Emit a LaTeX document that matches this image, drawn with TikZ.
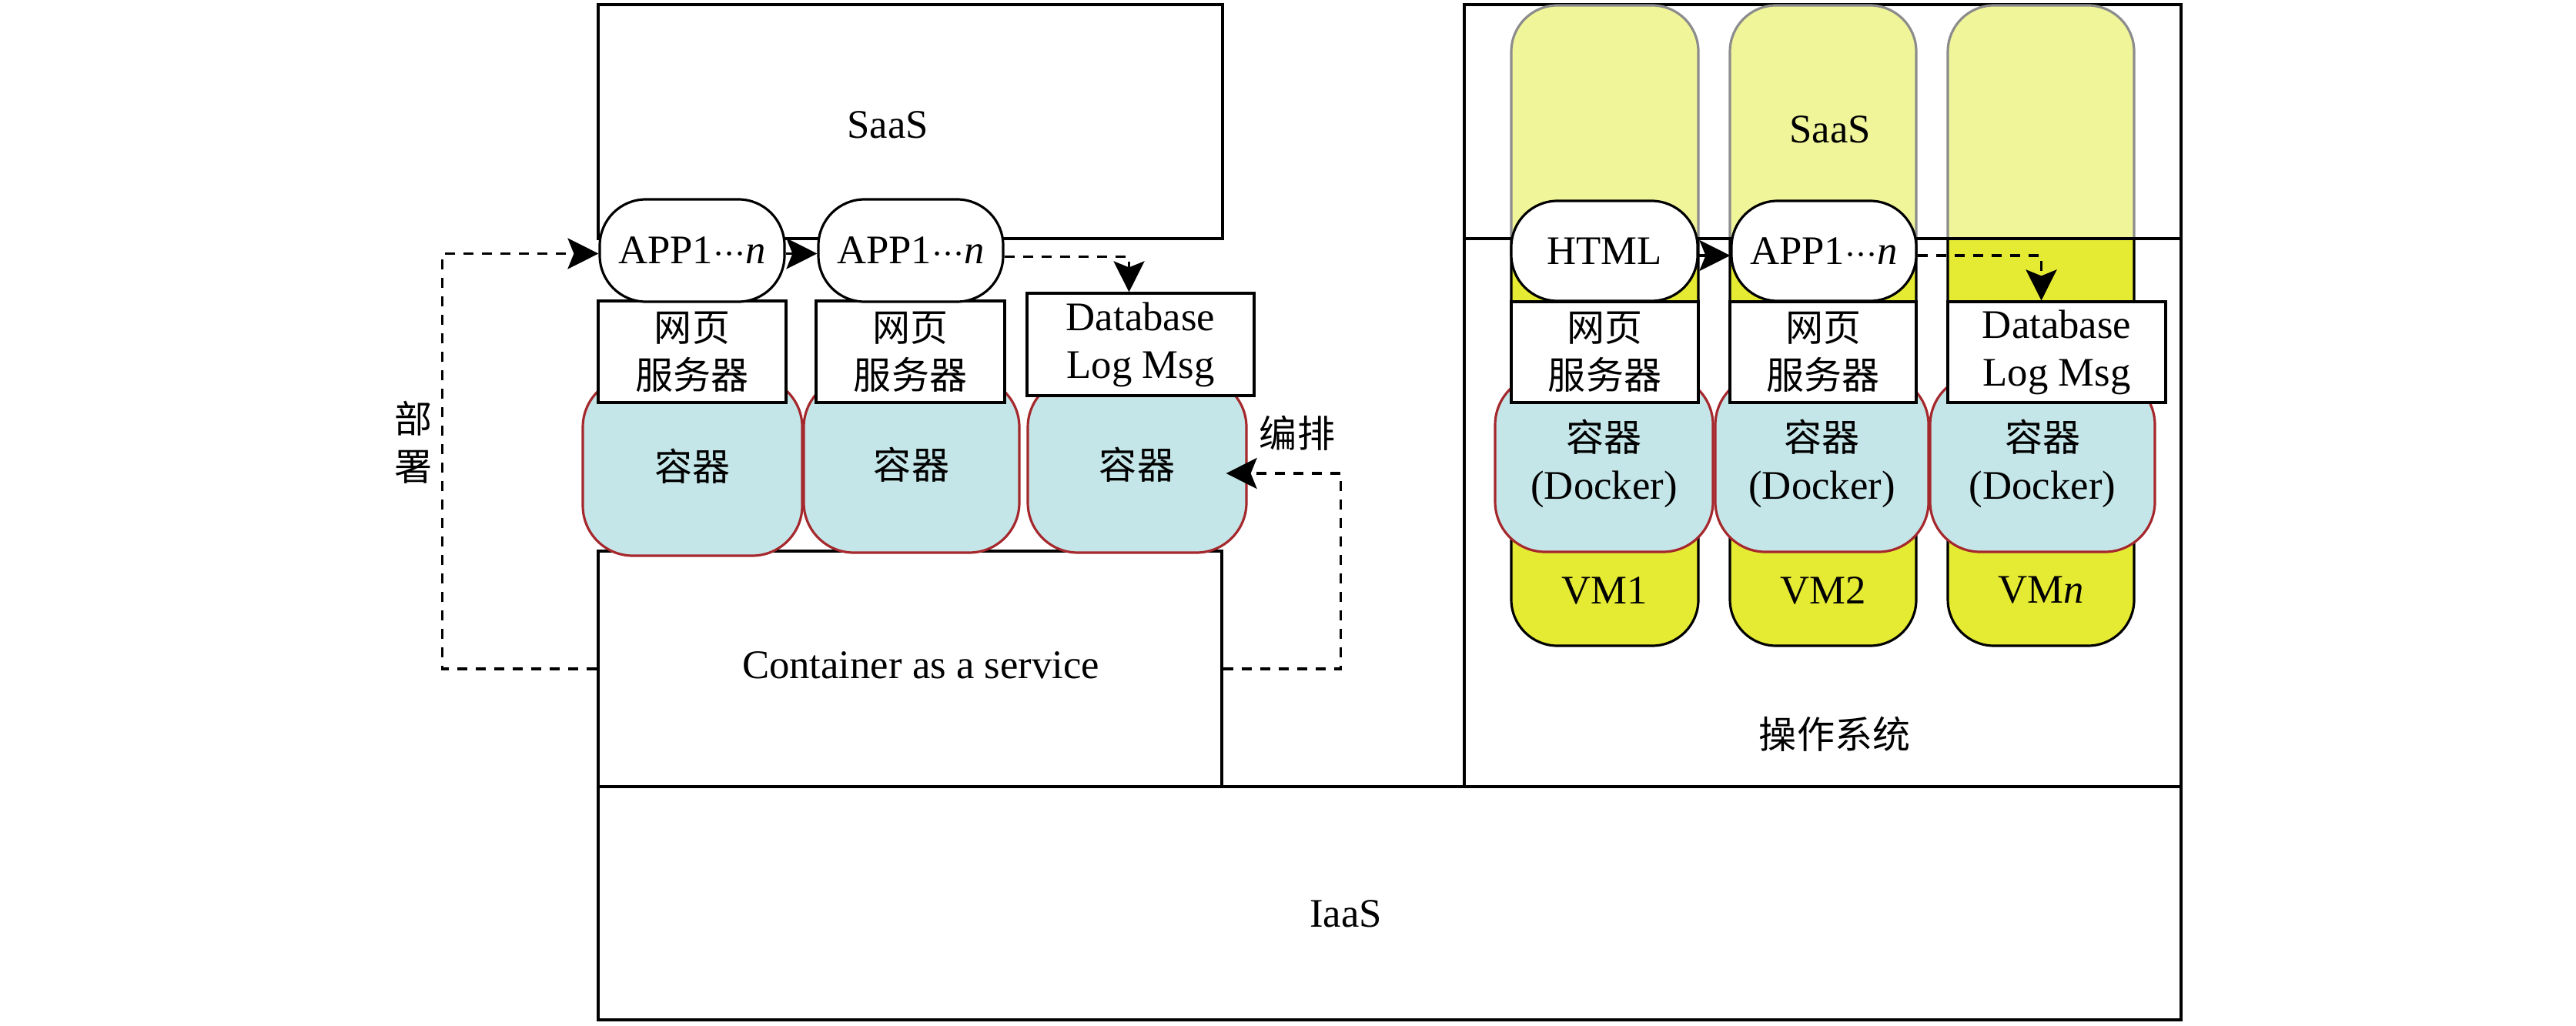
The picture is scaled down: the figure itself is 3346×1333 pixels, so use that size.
\documentclass[tikz,border=0pt]{standalone}
\usepackage{fontspec}
\setmainfont{Liberation Serif}
\newfontfamily\cjk[Scale=0.93]{Noto Sans CJK SC}
\usetikzlibrary{arrows.meta}
\definecolor{ctrfill}{RGB}{197,230,232}
\definecolor{ctrline}{RGB}{165,40,45}
\definecolor{vmfill}{RGB}{229,234,51}
\definecolor{vmpale}{RGB}{241,245,154}
\definecolor{vmgrey}{RGB}{140,140,140}
\newcommand{\appdots}{${\cdot}{\cdot}{\cdot}$}

\begin{document}
\begin{tikzpicture}[
  x=0.1mm, y=-0.1mm,
  txt/.style={font=\fontsize{15}{17.6}\selectfont,align=center,inner sep=0pt},
  layer/.style={draw,line width=0.9pt,inner sep=0pt,font=\fontsize{15}{17.6}\selectfont},
  box/.style={draw,fill=white,line width=0.9pt,inner sep=0pt,align=center,font=\fontsize{15}{17.6}\selectfont},
  pill/.style={box,rounded corners=6mm},
  ctr/.style={draw=ctrline,fill=ctrfill,line width=0.9pt,rounded corners=6.5mm,inner sep=0pt,align=center,font=\fontsize{15}{17.6}\selectfont},
  vmlow/.style={draw,fill=vmfill,line width=0.9pt,rounded corners=6mm},
  vmhigh/.style={draw=vmgrey,fill=vmpale,line width=0.9pt,rounded corners=6mm},
  arr/.style={-{Stealth[length=4mm,width=4mm,inset=0.8mm]},line width=1pt,dash pattern=on 1.3mm off 1.1mm}
]
\useasboundingbox (0,0) rectangle (3346,1333);
\node[layer,minimum width=205.6mm,minimum height=30.3mm] (iaas) at (1805,1173.5) {};
\node[txt] (iaastxt) at (1748,1187) {IaaS};
\node[layer,minimum width=81mm,minimum height=30.6mm] (caas) at (1182,869) {};
\node[txt] (caastxt) at (1196,864) {Container as a service};
\node[layer,minimum width=81.1mm,minimum height=30.4mm] (saasL) at (1182.5,158) {};
\node[txt] (saasLtxt) at (1153,162) {SaaS};
\node[layer,minimum width=93.1mm,minimum height=101.6mm] (os) at (2367.5,514) {};
\node[txt] (ostxt) at (2383,954) {\cjk 操作系统};
\draw[vmhigh] (1963,310) |- (2206,7) -- (2206,310);
\draw[vmhigh] (2247,310) |- (2489,7) -- (2489,310);
\draw[vmhigh] (2530,310) |- (2772,7) -- (2772,310);
\draw[vmlow] (1963,310) |- (2206,839) -- (2206,310);
\draw[vmlow] (2247,310) |- (2489,839) -- (2489,310);
\draw[vmlow] (2530,310) |- (2772,839) -- (2772,310);
\draw[line width=0.9pt] (os.west |- 0,310) -- (os.east |- 0,310);
\node[txt] (saasRtxt) at (2377,168) {SaaS};
\node[txt] (vm1) at (2084.5,767) {VM1};
\node[txt] (vm2) at (2368,767) {VM2};
\node[txt] (vmn) at (2651,767) {VM\textit{n}};
\node[ctr,minimum width=28.3mm,minimum height=23mm] (ctrR1) at (2083.5,602) {{\cjk 容器}\\(Docker)};
\node[ctr,minimum width=27.7mm,minimum height=23mm] (ctrR2) at (2366.5,602) {{\cjk 容器}\\(Docker)};
\node[ctr,minimum width=29.2mm,minimum height=23mm] (ctrR3) at (2653,602) {{\cjk 容器}\\(Docker)};
\node[box,minimum width=24.3mm,minimum height=13.1mm] (webR1) at (2084.5,457.5) {{\cjk 网页}\\{\cjk 服务器}};
\node[box,minimum width=24.2mm,minimum height=13.1mm] (webR2) at (2368,457.5) {{\cjk 网页}\\{\cjk 服务器}};
\node[box,minimum width=28.3mm,minimum height=13.1mm] (dbR) at (2671.5,457.5) {Database\\Log Msg};
\node[pill,minimum width=24.2mm,minimum height=13mm] (html) at (2084,326) {HTML};
\node[pill,minimum width=24mm,minimum height=13mm] (appR) at (2369,326) {APP1\appdots\textit{n}};
\node[ctr,minimum width=28.5mm,minimum height=23.2mm] (ctrL1) at (899.5,606) {\cjk 容器};
\node[ctr,minimum width=28mm,minimum height=22.8mm] (ctrL2) at (1184,604) {\cjk 容器};
\node[ctr,minimum width=28.4mm,minimum height=22.8mm] (ctrL3) at (1477,604) {\cjk 容器};
\node[box,minimum width=24.4mm,minimum height=13.2mm] (webL1) at (899,457) {{\cjk 网页}\\{\cjk 服务器}};
\node[box,minimum width=24.5mm,minimum height=13.2mm] (webL2) at (1182.5,457) {{\cjk 网页}\\{\cjk 服务器}};
\node[box,minimum width=29.5mm,minimum height=13.3mm] (dbL) at (1481.5,447.5) {Database\\Log Msg};
\node[pill,minimum width=24mm,minimum height=13.3mm] (appL1) at (899,325.5) {APP1\appdots\textit{n}};
\node[pill,minimum width=24mm,minimum height=13.3mm] (appL2) at (1183,325.5) {APP1\appdots\textit{n}};
\node[txt] (deploy) at (537,575) {{\cjk 部}\\{\cjk 署}};
\node[txt] (orch) at (1685,563) {\cjk 编排};
\draw[arr] (caas.west) -- ++(-201,0) |- ([yshift=-0.4mm]appL1.west);
\draw[arr,shorten >=-2.8mm] (caas.east) -- ++(153,0) |- ([yshift=-1.1mm]ctrL3.east);
\draw[arr] ([yshift=-0.4mm]appL1.east) -- ([yshift=-0.4mm]appL2.west);
\draw[arr] ([yshift=-0.8mm]appL2.east) -| ([xshift=-1.5mm]dbL.north);
\draw[arr] ([yshift=-0.6mm]html.east) -- ([yshift=-0.6mm]appR.west);
\draw[arr] ([yshift=-0.6mm]appR.east) -| ([xshift=-2mm]dbR.north);
\end{tikzpicture}
\end{document}
